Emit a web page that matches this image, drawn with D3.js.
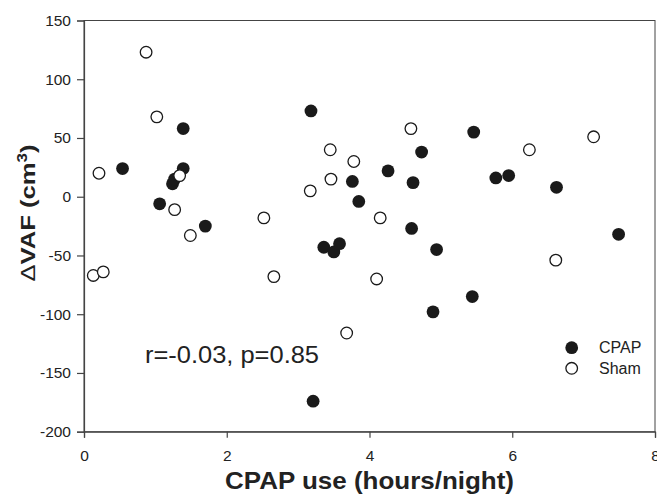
<!DOCTYPE html>
<html>
<head>
<meta charset="utf-8">
<script src="https://cdn.jsdelivr.net/npm/d3@7"></script>
<style>
  html, body { margin: 0; padding: 0; background: #fff; }
  svg { display: block; font-family: Arial, "Liberation Sans", sans-serif; }
</style>
</head>
<body>
<svg id="chart" width="657" height="499"></svg>
<script>
// CPAP group (filled circles)
const cpapHours = [0.54, 1.06, 1.24, 1.27, 1.39, 1.39, 1.70, 3.18, 3.21, 3.36, 3.50, 3.58, 3.76,
  3.85, 4.26, 4.59, 4.61, 4.73, 4.89, 4.94, 5.44, 5.46, 5.77, 5.95, 6.62, 7.49]
const cpapDelta = [24, -6, 11, 15, 24, 58, -25, 73, -174, -43, -47, -40, 13,
  -4, 22, -27, 12, 38, -98, -45, -85, 55, 16, 18, 8, -32]

// Sham group (open circles)
const shamHours = [0.13, 0.21, 0.27, 0.87, 1.02, 1.27, 1.34, 1.49, 2.52, 2.66, 3.17,
  3.45, 3.46, 3.68, 3.78, 4.10, 4.15, 4.58, 6.24, 6.61, 7.14]
const shamDelta = [-67, 20, -64, 123, 68, -11, 18, -33, -18, -68, 5,
  40, 15, -116, 30, -70, -18, 58, 40, -54, 51]

const xTicks = [0, 2, 4, 6, 8]
const yTicks = [-200, -150, -100, -50, 0, 50, 100, 150]
const legendLabels = ["CPAP", "Sham"]
const statText = "r=-0.03, p=0.85"

const svg = d3.select("#chart")
const ink = "#222"
const plotLeft = 84, plotRight = 655, plotTop = 20.5, plotBottom = 431.7

const x = d3.scaleLinear().domain([0, 8]).range([plotLeft, plotRight])
const y = d3.scaleLinear().domain([-200, 150]).range([plotBottom, plotTop])

// frame (top + right borders)
svg.append("rect")
  .attr("x", plotLeft).attr("y", plotTop)
  .attr("width", plotRight - plotLeft).attr("height", plotBottom - plotTop)
  .attr("fill", "none").attr("stroke", "#444").attr("stroke-width", 1)

// axes (plain hyphen for negatives, like the original)
const fmt = d => String(d)
const xAxis = svg.append("g")
  .attr("transform", `translate(0,${plotBottom})`)
  .call(d3.axisBottom(x).tickValues(xTicks).tickFormat(fmt).tickSize(6).tickPadding(12))
const yAxis = svg.append("g")
  .attr("transform", `translate(${plotLeft},0)`)
  .call(d3.axisLeft(y).tickValues(yTicks).tickFormat(fmt).tickSize(7).tickPadding(6))

for (const ax of [xAxis, yAxis]) {
  ax.select(".domain").attr("stroke", "#444").attr("stroke-width", 1.2)
  ax.selectAll(".tick line").attr("stroke", "#444").attr("stroke-width", 1.2)
  ax.selectAll(".tick text")
    .attr("fill", ink)
    .style("font-size", "15.5px")
    .style("font-family", "Arial, 'Liberation Sans', sans-serif")
}

// points
const cpap = cpapHours.map((h, i) => ({ h, d: cpapDelta[i] }))
const sham = shamHours.map((h, i) => ({ h, d: shamDelta[i] }))

svg.append("g").selectAll("circle")
  .data(cpap).join("circle")
  .attr("cx", p => x(p.h)).attr("cy", p => y(p.d))
  .attr("r", 6.4).attr("fill", "#1a1a1a")

svg.append("g").selectAll("circle")
  .data(sham).join("circle")
  .attr("cx", p => x(p.h)).attr("cy", p => y(p.d))
  .attr("r", 5.8).attr("fill", "#fff")
  .attr("stroke", "#1a1a1a").attr("stroke-width", 1.3)

// legend
const legend = svg.append("g")
legendLabels.forEach((lab, i) => {
  const cy = 347.7 + i * 20.6
  legend.append("circle")
    .attr("cx", 571.7).attr("cy", cy)
    .attr("r", i === 0 ? 6.4 : 5.8)
    .attr("fill", i === 0 ? "#1a1a1a" : "#fff")
    .attr("stroke", i === 0 ? "none" : "#1a1a1a")
    .attr("stroke-width", 1.3)
  legend.append("text")
    .attr("x", 599).attr("y", cy + 5.5)
    .attr("fill", ink).style("font-size", "16px")
    .text(lab)
})

// stats annotation
svg.append("text")
  .attr("x", 145).attr("y", 363)
  .attr("fill", ink).style("font-size", "24px")
  .attr("textLength", 174).attr("lengthAdjust", "spacingAndGlyphs")
  .text(statText)

// axis titles
svg.append("text")
  .attr("x", (plotLeft + plotRight) / 2).attr("y", 489)
  .attr("text-anchor", "middle")
  .attr("fill", ink).style("font-size", "24px").style("font-weight", "bold")
  .attr("textLength", 289).attr("lengthAdjust", "spacingAndGlyphs")
  .text("CPAP use (hours/night)")

const yTitle = svg.append("text")
  .attr("transform", "translate(35,213) rotate(-90)")
  .attr("text-anchor", "middle")
  .attr("fill", ink).style("font-size", "21px").style("font-weight", "bold")
  .attr("textLength", 137).attr("lengthAdjust", "spacingAndGlyphs")
yTitle.append("tspan").style("font-weight", "normal").text("\u0394")
yTitle.append("tspan").text("VAF (cm")
yTitle.append("tspan").attr("dy", -8).style("font-size", "14px").text("3")
yTitle.append("tspan").attr("dy", 8).text(")")
</script>
</body>
</html>
